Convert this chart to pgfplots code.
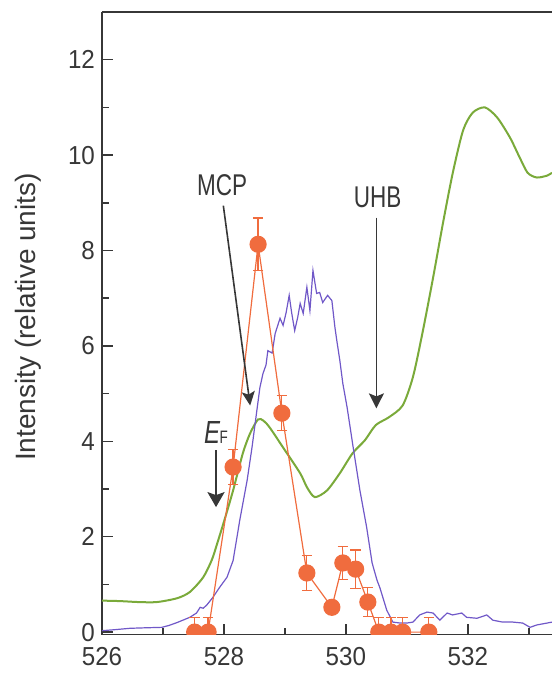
\documentclass[border=0pt]{standalone}
\usepackage{fontspec}
\setmainfont{Liberation Sans}
\newfontfamily\condfont{Liberation Sans}[FakeStretch=0.75]
\newfontfamily\tickfont{Liberation Sans}[FakeStretch=0.93]
\usepackage{pgfplots}
\pgfplotsset{compat=1.18}
\usetikzlibrary{arrows.meta}
\definecolor{grn}{RGB}{122,170,58}
\definecolor{prp}{RGB}{112,88,200}
\definecolor{org}{RGB}{240,108,62}
\definecolor{axc}{RGB}{55,55,55}

\pgfplotstableread{
x y
526.00 0.66
526.30 0.65
526.60 0.63
526.90 0.63
527.23 0.71
527.44 0.84
527.66 1.15
527.80 1.51
527.89 1.86
528.02 2.40
528.15 2.97
528.31 3.75
528.43 4.17
528.56 4.46
528.65 4.43
528.75 4.29
528.97 3.87
529.25 3.33
529.36 3.04
529.49 2.83
529.69 2.97
529.90 3.33
530.11 3.75
530.31 4.02
530.49 4.34
530.70 4.50
530.93 4.75
531.10 5.35
531.26 6.30
531.43 7.43
531.59 8.56
531.75 9.61
531.92 10.51
532.08 10.89
532.28 11.00
532.48 10.79
532.69 10.37
532.85 9.95
532.98 9.63
533.13 9.53
533.30 9.57
533.38 9.63
}\greentab

\pgfplotstableread{
x y
526.00 0.03
526.20 0.05
526.46 0.08
526.70 0.09
526.98 0.10
527.10 0.14
527.23 0.20
527.44 0.31
527.55 0.40
527.61 0.52
527.66 0.50
527.72 0.57
527.82 0.73
527.93 0.94
528.05 1.15
528.15 1.50
528.26 2.35
528.38 3.18
528.46 3.87
528.54 4.65
528.59 5.13
528.64 5.42
528.69 5.60
528.72 5.90
528.79 5.85
528.84 6.26
528.92 6.58
528.97 6.43
529.02 6.70
529.07 7.06
529.11 6.70
529.16 6.32
529.21 6.60
529.25 6.89
529.30 6.68
529.36 7.23
529.41 6.74
529.46 7.58
529.52 7.10
529.57 7.12
529.62 6.91
529.70 7.06
529.77 6.95
529.82 6.39
529.85 6.12
529.90 5.70
529.95 5.21
530.02 4.71
530.07 4.29
530.11 3.95
530.23 2.97
530.34 2.20
530.43 1.45
530.51 1.09
530.56 0.92
530.67 0.46
530.77 0.21
530.89 0.19
531.00 0.19
531.10 0.21
531.21 0.36
531.33 0.42
531.43 0.40
531.54 0.25
531.66 0.40
531.75 0.36
531.90 0.40
531.98 0.31
532.15 0.29
532.31 0.36
532.41 0.25
532.57 0.21
532.74 0.21
532.90 0.19
533.02 0.10
533.13 0.15
533.30 0.19
533.38 0.21
}\purpletab

\pgfplotstableread{
x y ep em
527.52 0 0.3 0
527.74 0 0.3 0
528.15 3.46 0.37 0.37
528.56 8.13 0.55 0.55
528.95 4.59 0.37 0.37
529.36 1.24 0.36 0.36
529.77 0.52 0.13 0.13
529.95 1.45 0.35 0.35
530.16 1.32 0.40 0.40
530.36 0.63 0.30 0.30
530.54 0 0.3 0
530.74 0 0.3 0
530.93 0 0.3 0
531.36 0 0.3 0
}\orangetab

\begin{document}
\begin{tikzpicture}
\begin{axis}[
 name=ax,
 at={(0,0)}, anchor=south west,
 scale only axis, width=225pt, height=311.25pt,
 xmin=526, xmax=533.38, ymin=-0.05, ymax=13,
 axis x line*=bottom, axis y line*=left,
 axis line style={axc, line width=0.75pt, -},
 every outer x axis line/.append style={-},
 every outer y axis line/.append style={-},
 xtick={526,528,530,532}, minor xtick={527,529,531,533},
 ytick={0,2,...,12}, minor ytick={1,3,...,11},
 tick align=inside,
 major tick length=5.5pt, minor tick length=3.5pt,
 tick style={axc, line width=0.75pt},
 tick label style={font=\tickfont\fontsize{13}{14}\selectfont, text=axc},
 xticklabel style={yshift=-3pt},
 /pgf/number format/assume math mode=true,
 /pgf/number format/1000 sep={},
 every axis y label/.style={at={(axis description cs:-0.164,0.51)}, anchor=center, rotate=90, font=\fontsize{14}{16}\selectfont, text=axc},
 ylabel={Intensity (relative units)},
 clip marker paths=true,
]
\addplot[grn, line width=1pt, smooth, tension=0.45] table[x=x,y=y] {\greentab};
\addplot[prp, line width=0.6pt] table[x=x,y=y] {\purpletab};
\addplot[org, line width=0.6pt, mark=*, mark size=4pt, mark options={fill=org, draw=org},
  error bars/.cd, y dir=both, y explicit,
  error bar style={org, line width=0.6pt},
  error mark options={rotate=90, mark size=2.6pt, line width=0.6pt, org}]
  table[x=x, y=y, y error plus=ep, y error minus=em] {\orangetab};

\node[font=\condfont\fontsize{15}{16}\selectfont, text=axc] at (axis cs:527.97,9.36) {MCP};
\draw[axc, line width=0.8pt, -{Stealth[length=7pt,width=6.5pt,inset=1.5pt]}] (axis cs:527.99,8.94) -- (axis cs:528.43,4.75);
\node[font=\condfont\fontsize{15}{16}\selectfont, text=axc] at (axis cs:530.52,9.11) {UHB};
\draw[axc, line width=0.8pt, -{Stealth[length=7.5pt,width=7.5pt,inset=1.5pt]}] (axis cs:530.5,8.69) -- (axis cs:530.5,4.69);
\node[anchor=base west, inner sep=0pt, text=axc] at (axis cs:527.67,3.96) {\condfont\fontsize{16}{16}\selectfont\itshape E\kern-0.3pt\upshape\fontsize{9}{9}\selectfont F};
\draw[axc, line width=1.2pt, -{Stealth[length=7.5pt,width=8.5pt,inset=1.5pt]}] (axis cs:527.87,3.81) -- (axis cs:527.87,2.62);
\end{axis}
\draw[axc, line width=0.75pt] (ax.north west) -- (ax.north east);
\pgfresetboundingbox
\path[use as bounding box] (-51pt,-20.25pt) rectangle (225pt,317.25pt);
\end{tikzpicture}
\end{document}
